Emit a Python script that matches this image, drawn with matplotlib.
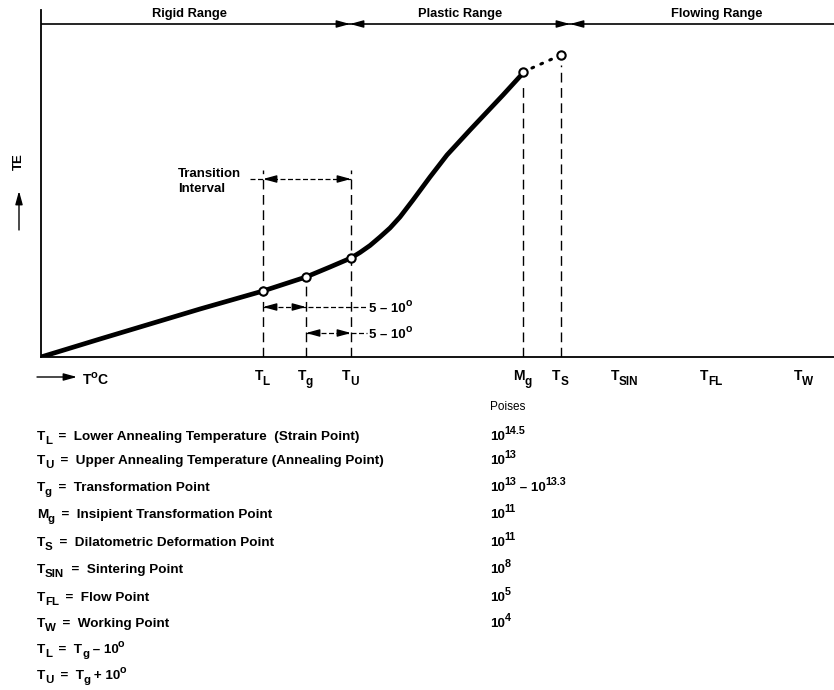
import re

import matplotlib
matplotlib.use("Agg")
import matplotlib.pyplot as plt

plt.rcParams["font.family"] = ["Liberation Sans", "DejaVu Sans"]
plt.rcParams["font.weight"] = "bold"

# characteristic temperatures (arbitrary temperature scale, left to right)
point_labels = ["T_{L}", "T_{g}", "T_{U}", "M_{g}", "T_{S}", "T_{SIN}", "T_{FL}", "T_{W}"]
point_temps = [222, 265, 310, 482, 520, 584, 671, 763]

# TE at the marked points (T_L, T_g, T_U, M_g, T_S)
marked_temps = [222, 265, 310, 482, 520]
marked_te = [66, 80, 99, 285, 302]

# expansion curve
curve_t = [0, 59, 109, 159, 222, 265, 289, 310, 319, 329, 339, 349, 359, 372,
           389, 406, 429, 462, 483]
curve_te = [0, 18, 33, 48, 66, 80, 90, 99, 104.5, 111.5, 120, 129, 140, 157,
            180, 202, 227, 262, 285]

# ranges along the top
range_names = ["Rigid Range", "Plastic Range", "Flowing Range"]
range_bounds = [0, 309, 529, 793]

# legend table
symbols = ["T_{L}", "T_{U}", "T_{g}", "M_{g}", "T_{S}", "T_{SIN}", "T_{FL}", "T_{W}"]
descriptions = [
    "Lower Annealing Temperature  (Strain Point)",
    "Upper Annealing Temperature (Annealing Point)",
    "Transformation Point",
    "Insipient Transformation Point",
    "Dilatometric Deformation Point",
    "Sintering Point",
    "Flow Point",
    "Working Point",
]
poises = ["10^{14.5}", "10^{13}", "10^{13} \u2013 10^{13.3}", "10^{11}",
          "10^{11}", "10^{8}", "10^{5}", "10^{4}"]
extra_lines = ["T_{L}  =  T_{g} \u2013 10^{o}", "T_{U}  =  T_{g} + 10^{o}"]

fig = plt.figure(figsize=(8.34, 6.90), dpi=100)
ax = fig.add_axes([41 / 834, 333 / 690, 793 / 834, 347 / 690])
ax.set_xlim(0, 793)
ax.set_ylim(0, 347)
ax.set_xticks([])
ax.set_yticks([])
for s in ["top", "right"]:
    ax.spines[s].set_visible(False)
for s in ["left", "bottom"]:
    ax.spines[s].set_linewidth(1.3)

# page overlay for free text, in pixel units
tax = fig.add_axes([0, 0, 1, 1])
tax.set_xlim(0, 834)
tax.set_ylim(690, 0)
tax.axis("off")
tax.patch.set_alpha(0)

renderer = fig.canvas.get_renderer()
PX = fig.dpi / 72


def to_px(x, y):
    return tax.transData.inverted().transform(ax.transData.transform((x, y)))


def rich(x, y, s, fs, ha="left", sub_drop=0.3, weight="bold"):
    # text with _{..} / ^{..} scripts, laid out piece by piece on a baseline
    arts = []
    cx = x
    for p in re.split(r"([_^]\{[^}]*\})", s):
        if not p:
            continue
        size, dy = fs, 0
        if p.startswith("_{"):
            p, size, dy = p[2:-1], fs * 0.85, sub_drop * fs * PX
        elif p.startswith("^{"):
            p, size, dy = p[2:-1], fs * 0.8, -0.42 * fs * PX
        t = tax.text(cx, y + dy, p, fontsize=size, ha="left", va="baseline",
                     fontweight=weight)
        cx += t.get_window_extent(renderer).width - 0.4
        arts.append(t)
    if ha == "center":
        shift = (cx - x) / 2
        for t in arts:
            t.set_x(t.get_position()[0] - shift)
    return arts


def head(x_tip, y, d):
    ax.annotate("", xy=(x_tip, y), xytext=(x_tip - d * 11, y),
                arrowprops=dict(arrowstyle="-|>,head_length=0.8,head_width=0.22",
                                color="k", lw=1, shrinkA=0, shrinkB=0))


# ranges
y_rng = 333
ax.plot([range_bounds[0], range_bounds[-1]], [y_rng, y_rng], color="k", lw=1.2)
for b in range_bounds[1:-1]:
    head(b, y_rng, 1)
    head(b, y_rng, -1)
for i, name in enumerate(range_names):
    xc = (range_bounds[i] + range_bounds[i + 1]) / 2 + [-6, 0, 15][i]
    px, _ = to_px(xc, 0)
    tax.text(px, 17.5, name, ha="center", va="baseline", fontsize=9.3)

# vertical dashed guides
guide_top = [187, marked_te[1], 187, 272, 292]
for t, top in zip(point_temps[:5], guide_top):
    ax.plot([t, t], [0, top], color="k", lw=1.0, ls=(0, (7, 4)))

# curve
ax.plot(curve_t, curve_te, color="k", lw=3.4, solid_capstyle="round",
        solid_joinstyle="round", zorder=4)
ax.plot(marked_temps[3:5], marked_te[3:5], color="k", lw=2.2, ls=(0, (0.6, 2.6)),
        dash_capstyle="round", zorder=4)
ax.plot(marked_temps, marked_te, "o", ms=6, mfc="white", mec="k", mew=1.5, zorder=5)

# transition interval
y_ti = 178
ax.plot([209, point_temps[2]], [y_ti, y_ti], color="k", lw=0.9, ls=(0, (4, 2)))
head(point_temps[0], y_ti, -1)
head(point_temps[2], y_ti, 1)
tax.text(178, 176.7, "Transition", ha="left", va="baseline", fontsize=9.5)
tax.text(178, 192, "Interval", ha="left", va="baseline", fontsize=9.5)

# 5 - 10 degree spans
for y, (a, b) in zip([50, 24], [(0, 1), (1, 2)]):
    ax.plot([point_temps[a], 326], [y, y], color="k", lw=0.9, ls=(0, (4, 2)))
    head(point_temps[a], y, -1)
    head(point_temps[b], y, 1)
    px, py = to_px(328, y)
    rich(px, py + 4.5, "5 \u2013 10^{o}", 9.5)

# axis labels
for lab, t in zip(point_labels, point_temps):
    px, _ = to_px(t - 1, 0)
    rich(px, 379.5, lab, 10, ha="center", sub_drop=0.4)
tax.annotate("", xy=(77, 377), xytext=(37, 377),
             arrowprops=dict(arrowstyle="-|>,head_length=0.8,head_width=0.22",
                             color="k", lw=1, shrinkA=0, shrinkB=0))
rich(83, 384, "T^{o}C", 10)
tax.text(19, 162, "TE", ha="center", va="center", rotation=90, fontsize=9.5)
tax.annotate("", xy=(19, 191), xytext=(19, 230),
             arrowprops=dict(arrowstyle="-|>,head_length=0.8,head_width=0.22",
                             color="k", lw=1, shrinkA=0, shrinkB=0))

# legend table
baselines = [440, 464, 491, 518, 546, 573, 601, 627, 653, 679]
tax.text(490, 410.5, "Poises", ha="left", va="baseline", fontsize=8.5,
         fontweight="normal")
for i, (sym, desc, p) in enumerate(zip(symbols, descriptions, poises)):
    rich(37, baselines[i], sym + "  =  " + desc, 9.7)
    rich(490, baselines[i], p, 9.7)
for j, line in enumerate(extra_lines):
    rich(37, baselines[len(symbols) + j], line, 9.7)

fig.savefig("out.png", dpi=100)
